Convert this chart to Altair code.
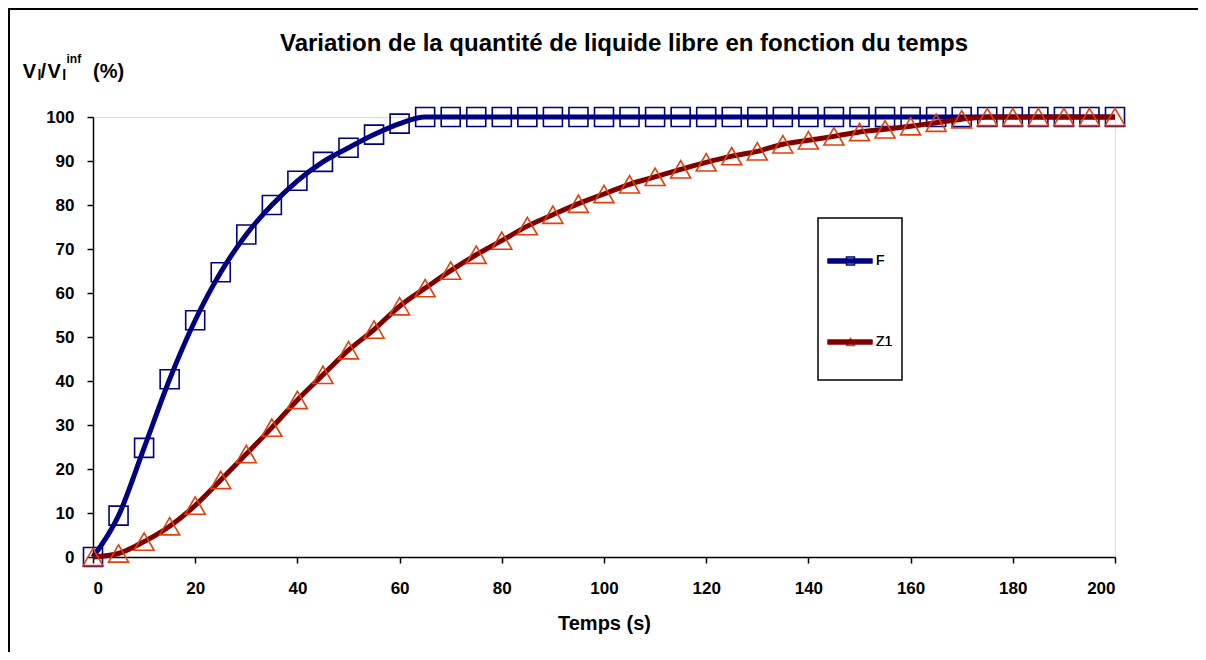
import altair as alt
import pandas as pd

# ---- data ----
time_s = [0, 5, 10, 15, 20, 25, 30, 35, 40, 45, 50, 55, 60, 65, 70, 75, 80, 85, 90, 95,
          100, 105, 110, 115, 120, 125, 130, 135, 140, 145, 150, 155, 160, 165, 170, 175,
          180, 185, 190, 195, 200]
f_values = [0, 9.4, 24.8, 40.4, 53.8, 64.7, 73.3, 80.0, 85.5, 89.8, 93.0, 96.0, 98.5, 100,
            100, 100, 100, 100, 100, 100, 100, 100, 100, 100, 100, 100, 100, 100, 100, 100,
            100, 100, 100, 100, 100, 100, 100, 100, 100, 100, 100]
z1_values = [0, 0.8, 3.5, 7.0, 11.7, 17.5, 23.4, 29.4, 35.7, 41.4, 47.0, 51.7, 57.0, 61.1,
             65.1, 68.7, 71.9, 75.2, 77.8, 80.3, 82.5, 84.7, 86.4, 88.1, 89.7, 91.1, 92.2,
             93.8, 94.7, 95.6, 96.6, 97.2, 97.9, 98.7, 99.5, 100, 100, 100, 100, 100, 100]
series_names = ["F", "Z1"]
x_ticks = [0, 20, 40, 60, 80, 100, 120, 140, 160, 180, 200]
y_ticks = [0, 10, 20, 30, 40, 50, 60, 70, 80, 90, 100]

rows = []
for t, v in zip(time_s, f_values):
    rows.append({"t": t, "v": v, "series": "F"})
for t, v in zip(time_s, z1_values):
    rows.append({"t": t, "v": v, "series": "Z1"})
df = pd.DataFrame(rows)

FONT = "Liberation Sans"
line_colors = ["#000080", "#800000"]
marker_colors = ["#000080", "#E0400C"]
marker_shapes = ["square", "triangle-up"]

x_enc = alt.X("t:Q", scale=alt.Scale(domain=[0, 200], nice=False),
              axis=alt.Axis(values=x_ticks, title="Temps (s)", grid=False,
                            labelFontSize=17, labelFontWeight="bold", labelFont=FONT,
                            labelColor="black", titleFont=FONT, titleFontSize=20,
                            titleFontWeight="bold", titleColor="black", titlePadding=17,
                            tickSize=6, tickColor="black", tickWidth=1.5,
                            domainColor="black", domainWidth=1.5, labelPadding=17))
y_enc = alt.Y("v:Q", scale=alt.Scale(domain=[0, 100], nice=False),
              axis=alt.Axis(values=y_ticks, title=None, grid=False,
                            labelFontSize=17, labelFontWeight="bold", labelFont=FONT,
                            labelColor="black", tickSize=6, tickColor="black",
                            tickWidth=1.5, domainColor="black", domainWidth=1.5,
                            labelPadding=13))

line_legend = alt.Legend(title=None, orient="none", legendX=722, legendY=109,
                         symbolType="stroke", symbolSize=2025, symbolStrokeWidth=5,
                         labelFont=FONT, labelFontSize=14, labelColor="black",
                         labelOffset=1, padding=10, rowPadding=46)
marker_legend = alt.Legend(title=None, orient="none", legendX=722, legendY=127,
                           symbolSize=64, symbolStrokeWidth=1.5, symbolOffset=18.5,
                           labelFont=FONT, labelFontSize=14, labelOpacity=0,
                           labelOffset=1, padding=10, rowPadding=67)

color_enc = alt.Color("series:N", scale=alt.Scale(domain=series_names, range=line_colors),
                      legend=line_legend)
stroke_enc = alt.Stroke("series:N", scale=alt.Scale(domain=series_names, range=marker_colors),
                        legend=marker_legend)
shape_enc = alt.Shape("series:N", scale=alt.Scale(domain=series_names, range=marker_shapes),
                      legend=marker_legend)

base = alt.Chart(df)

f_line = base.transform_filter(alt.datum.series == "F").mark_line(
    interpolate="monotone", strokeWidth=5).encode(x=x_enc, y=y_enc, color=color_enc)
f_pts = base.transform_filter(alt.datum.series == "F").mark_point(
    filled=False, size=361, strokeWidth=1.6, opacity=1).encode(
    x=x_enc, y=y_enc, stroke=stroke_enc, shape=shape_enc)
z_line = base.transform_filter(alt.datum.series == "Z1").mark_line(
    interpolate="monotone", strokeWidth=5).encode(x=x_enc, y=y_enc, color=color_enc)
z_pts = base.transform_filter(alt.datum.series == "Z1").mark_point(
    filled=False, size=400, strokeWidth=1.6, opacity=1).encode(
    x=x_enc, y=y_enc, stroke=stroke_enc, shape=shape_enc)

one = alt.Data(values=[{}])
# outer frame of the figure (top and left edges; the rest lies outside the window)
frame_top = alt.Chart(one).mark_rule(color="black", strokeWidth=2).encode(
    x=alt.value(-85), x2=alt.value(1200), y=alt.value(-108))
frame_left = alt.Chart(one).mark_rule(color="black", strokeWidth=2).encode(
    x=alt.value(-84), y=alt.value(-109), y2=alt.value(700))
# legend box
legend_box = alt.Chart(one).mark_rect(fill="white", stroke="black", strokeWidth=1.5).encode(
    x=alt.value(725), x2=alt.value(809), y=alt.value(101), y2=alt.value(263))

# y-axis label with sub/superscripts
def txt(s, x, y, size):
    return alt.Chart(one).mark_text(text=s, align="left", baseline="alphabetic",
                                     font=FONT, fontSize=size, fontWeight="bold",
                                     color="black").encode(x=alt.value(x), y=alt.value(y))

ylab = (txt("V", -70.2, -39, 20) + txt("l", -55.6, -37, 14) + txt("/", -52.5, -39, 20)
        + txt("V", -45.6, -39, 20) + txt("l", -30.8, -37, 14) + txt("inf", -26.5, -54, 12)
        + txt("(%)", 0, -39, 20))

chart = alt.layer(frame_top, frame_left, legend_box, f_line, f_pts, z_line, z_pts,
                  ylab).properties(
    width=1022, height=440,
    title=alt.TitleParams(
        text="Variation de la quantité de liquide libre en fonction du temps",
        font=FONT, fontSize=24, fontWeight="bold", color="black",
        anchor="middle", frame="group", dx=20, offset=-68, baseline="alphabetic"),
    autosize=alt.AutoSizeParams(type="none"),
    padding={"left": 85, "top": 109, "right": 83, "bottom": 95},
).resolve_scale(color="independent").configure_view(stroke=None).configure(background="white")

chart.save("out.html", embed_options={"renderer": "svg", "actions": False})
